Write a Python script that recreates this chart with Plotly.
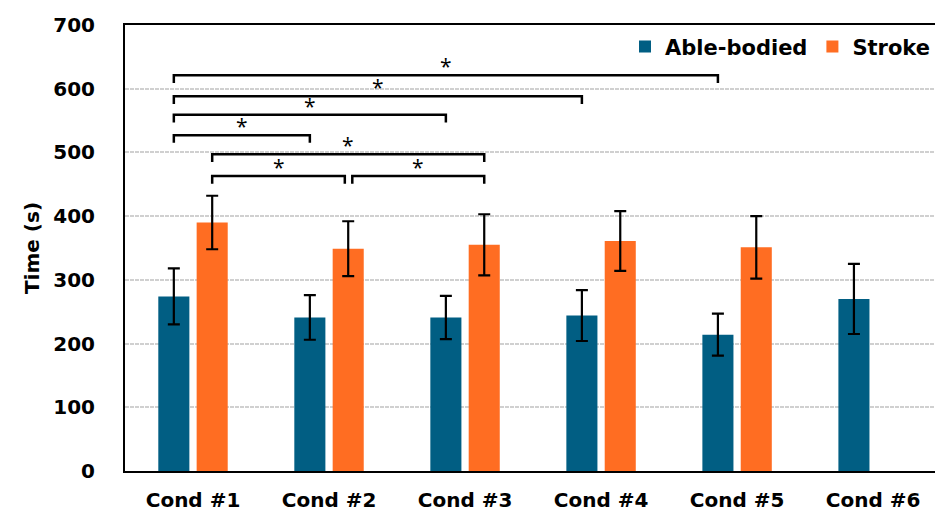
import plotly.graph_objects as go

categories = ["Cond #1", "Cond #2", "Cond #3", "Cond #4", "Cond #5", "Cond #6"]
able_mean = [274, 241, 241, 244, 214, 270]
able_err = [44, 35, 34, 40, 33, 55]
stroke_mean = [390, 349, 355, 361, 351, None]
stroke_err = [42, 43, 48, 47, 49, None]
y_ticks = [0, 100, 200, 300, 400, 500, 600, 700]

# significance brackets: (cond index a, series a, cond index b, series b, height)
brackets = [
    (0, "able", 4, "able", 621),
    (0, "able", 3, "able", 588),
    (0, "able", 2, "able", 559),
    (0, "able", 1, "able", 527),
    (0, "stroke", 2, "stroke", 497),
    (0, "stroke", 1, "stroke", 463),
    (1, "stroke", 2, "stroke", 463),
]

BLUE = "#015E83"
ORANGE = "#FF6D22"
FONT = "DejaVu Sans"
BARGAP = 0.436
BARGROUPGAP = 0.19
slot = (1 - BARGAP) / 2
offset = {"able": -slot / 2, "stroke": slot / 2}

x = list(range(len(categories)))

fig = go.Figure()
fig.add_trace(go.Bar(
    x=x, y=able_mean, name="Able-bodied", marker=dict(color=BLUE, line=dict(width=0)),
    error_y=dict(type="data", array=able_err, visible=True, color="black", thickness=2.2, width=6),
))
fig.add_trace(go.Bar(
    x=x, y=stroke_mean, name="Stroke", marker=dict(color=ORANGE, line=dict(width=0)),
    error_y=dict(type="data", array=stroke_err, visible=True, color="black", thickness=2.2, width=6),
))

leg = 12
for i, (a, sa, b, sb, h) in enumerate(brackets):
    xa = a + offset[sa]
    xb = b + offset[sb]
    # small nudge so adjacent brackets sharing an end point don't touch
    if i == 5:
        xb -= 0.025
    if i == 6:
        xa += 0.03
    fig.add_trace(go.Scatter(
        x=[xa, xa, xb, xb], y=[h - leg, h, h, h - leg], mode="lines",
        line=dict(color="black", width=2.5), showlegend=False, hoverinfo="skip",
    ))
    fig.add_annotation(
        x=(xa + xb) / 2, y=h - 11, text="*", showarrow=False, yanchor="bottom",
        font=dict(family="Open Sans", size=21, color="black"),
    )

fig.update_layout(
    width=935, height=519,
    margin=dict(l=125, r=0, t=25, b=48),
    paper_bgcolor="white", plot_bgcolor="white",
    barmode="group", bargap=BARGAP, bargroupgap=BARGROUPGAP,
    font=dict(family=FONT, color="black"),
    legend=dict(
        orientation="h", x=1, xanchor="right", y=0.951, yanchor="middle",
        font=dict(family=FONT, size=21, color="black", weight="bold"),
        bgcolor="rgba(0,0,0,0)", itemwidth=30, traceorder="normal",
    ),
    showlegend=True,
)
fig.update_xaxes(
    range=[-0.5, 5.455], tickvals=x, ticktext=categories,
    showline=True, linecolor="black", linewidth=2, mirror=True,
    showgrid=False, zeroline=False, ticks="",
    tickfont=dict(family=FONT, size=20, color="black", weight="bold"),
    ticklabelstandoff=10,
)
fig.update_yaxes(
    range=[0, 700], tickvals=y_ticks,
    showline=True, linecolor="black", linewidth=2, mirror=False,
    showgrid=True, gridcolor="#d0d0d0", gridwidth=1.5, griddash="4px,1px",
    zeroline=False, ticks="",
    tickfont=dict(family=FONT, size=20, color="black", weight="bold"),
    ticklabelstandoff=24,
    title=dict(text="Time (s)", font=dict(family=FONT, size=20, color="black", weight="bold"), standoff=8),
)

fig.write_html("out.html")
